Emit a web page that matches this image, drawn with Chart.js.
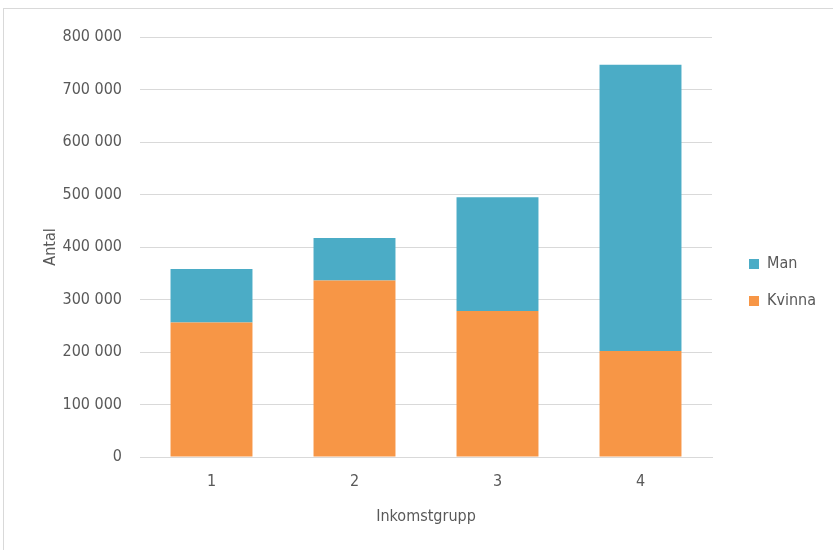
<!DOCTYPE html>
<html><head><meta charset="utf-8">
<script src="https://cdn.jsdelivr.net/npm/chart.js@4"></script>
<style>
html,body{margin:0;padding:0;background:#fff;}
#wrap{position:absolute;left:0;top:0;width:833px;height:550px;overflow:hidden;}
#frame{position:absolute;left:3px;top:8px;width:840px;height:560px;border:1px solid #d9d9d9;box-sizing:border-box;}
canvas{position:absolute;left:0;top:0;}
</style></head><body>
<div id="wrap"><div id="frame"></div><canvas id="c" width="833" height="550"></canvas></div>
<script>
const categories = ['1','2','3','4'];
const kvinna = [256000, 336000, 278000, 202000];
const man = [102000, 81000, 217000, 545000];
const yTicks = [0,100000,200000,300000,400000,500000,600000,700000,800000];
const FONT = '"Liberation Sans Narrow","Arial Narrow","DejaVu Sans Condensed",sans-serif';
const TXT = '#595959';
const fmt = v => String(v).replace(/\B(?=(\d{3})+(?!\d))/g, ' ');
const legendFix = {id:'legendFix',
  beforeUpdate(chart){
    const lg = chart.legend; if(!lg || lg._patched) return;
    const orig = lg.fit; lg.fit = function(){ orig.call(this); this.width = 121; }; lg._patched = true;
  },
  afterLayout(chart){ const lg = chart.legend; if(lg){ lg.left += 16; lg.right += 16; lg.top -= 1; lg.bottom -= 1; } }
};
new Chart(document.getElementById('c'), {
  type:'bar',
  data:{labels:categories, datasets:[
    {label:'Kvinna', data:kvinna, backgroundColor:'#F79646', categoryPercentage:1, barPercentage:0.573},
    {label:'Man', data:man, backgroundColor:'#4BACC6', categoryPercentage:1, barPercentage:0.573}
  ]},
  options:{responsive:false, animation:false, devicePixelRatio:1,
    layout:{padding:{left:38,top:37,right:0,bottom:20}},
    plugins:{tooltip:{enabled:false},
      legend:{position:'right', reverse:true, labels:{boxWidth:10, boxHeight:10, padding:21, color:TXT, font:{family:FONT,size:16}}}},
    scales:{
      x:{stacked:true, grid:{display:false, drawTicks:false}, border:{color:'#d9d9d9'},
        ticks:{color:TXT, font:{family:FONT,size:16}, padding:15},
        title:{display:true, text:'Inkomstgrupp', color:TXT, font:{family:FONT,size:16}, padding:{top:1,bottom:4}},
        afterFit(s){ s.height = 73; }},
      y:{stacked:true, min:0, max:800000, afterBuildTicks(s){ s.ticks = yTicks.map(v=>({value:v})); },
        grid:{color:'#d9d9d9', drawTicks:false}, border:{display:false},
        ticks:{color:TXT, font:{family:FONT,size:16}, padding:18, callback:v=>fmt(v)},
        title:{display:true, text:'Antal', color:TXT, font:{family:FONT,size:16}, padding:{top:3,bottom:0}},
        afterFit(s){ s.width = 102; }}
    }},
  plugins:[legendFix]
});
</script></body></html>
